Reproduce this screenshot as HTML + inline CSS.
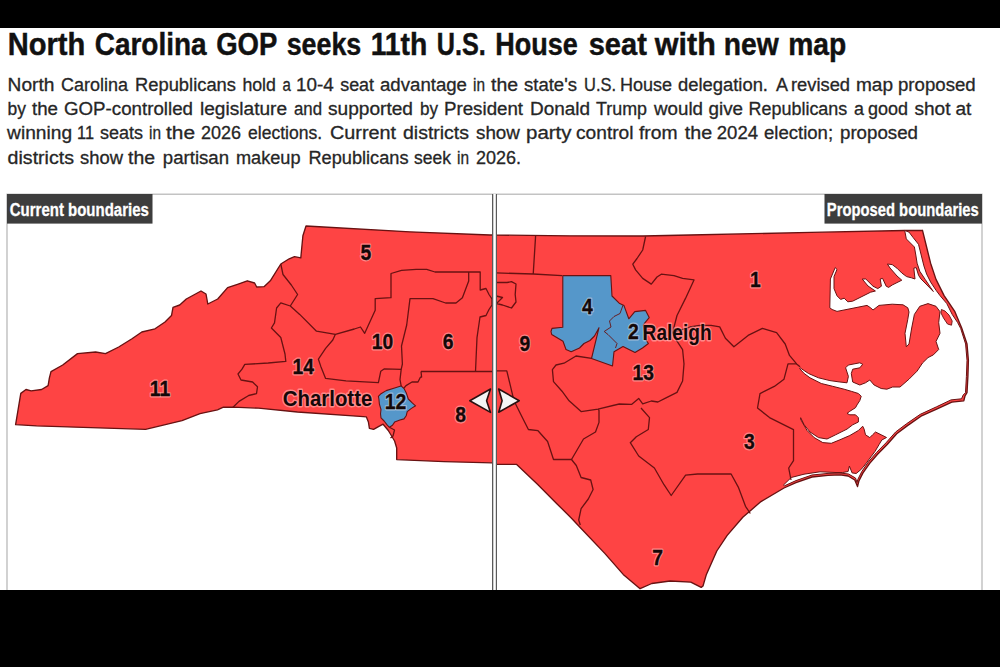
<!DOCTYPE html>
<html><head><meta charset="utf-8"><title>North Carolina GOP seeks 11th U.S. House seat with new map</title>
<style>html,body{margin:0;padding:0;background:#fff;width:1000px;height:667px;overflow:hidden}svg{display:block}</style>
</head><body>
<svg width="1000" height="667" viewBox="0 0 1000 667">
<defs><clipPath id="cl"><rect x="7" y="194" width="486.5" height="400"/></clipPath><clipPath id="cr"><rect x="496" y="194" width="486" height="400"/></clipPath></defs>
<rect width="1000" height="667" fill="#fff"/>
<text x="7.70" y="54.6" font-family="Liberation Sans, Arial, sans-serif" font-weight="bold" font-size="31.5" fill="#111" stroke="#111" stroke-width="0.45" textLength="77.58" lengthAdjust="spacingAndGlyphs">North</text>
<text x="94.70" y="54.6" font-family="Liberation Sans, Arial, sans-serif" font-weight="bold" font-size="31.5" fill="#111" stroke="#111" stroke-width="0.45" textLength="111.86" lengthAdjust="spacingAndGlyphs">Carolina</text>
<text x="216.20" y="54.6" font-family="Liberation Sans, Arial, sans-serif" font-weight="bold" font-size="31.5" fill="#111" stroke="#111" stroke-width="0.45" textLength="61.11" lengthAdjust="spacingAndGlyphs">GOP</text>
<text x="286.70" y="54.6" font-family="Liberation Sans, Arial, sans-serif" font-weight="bold" font-size="31.5" fill="#111" stroke="#111" stroke-width="0.45" textLength="74.59" lengthAdjust="spacingAndGlyphs">seeks</text>
<text x="370.70" y="54.6" font-family="Liberation Sans, Arial, sans-serif" font-weight="bold" font-size="31.5" fill="#111" stroke="#111" stroke-width="0.45" textLength="56.63" lengthAdjust="spacingAndGlyphs">11th</text>
<text x="436.70" y="54.6" font-family="Liberation Sans, Arial, sans-serif" font-weight="bold" font-size="31.5" fill="#111" stroke="#111" stroke-width="0.45" textLength="49.07" lengthAdjust="spacingAndGlyphs">U.S.</text>
<text x="495.20" y="54.6" font-family="Liberation Sans, Arial, sans-serif" font-weight="bold" font-size="31.5" fill="#111" stroke="#111" stroke-width="0.45" textLength="82.57" lengthAdjust="spacingAndGlyphs">House</text>
<text x="588.70" y="54.6" font-family="Liberation Sans, Arial, sans-serif" font-weight="bold" font-size="31.5" fill="#111" stroke="#111" stroke-width="0.45" textLength="58.14" lengthAdjust="spacingAndGlyphs">seat</text>
<text x="654.80" y="54.6" font-family="Liberation Sans, Arial, sans-serif" font-weight="bold" font-size="31.5" fill="#111" stroke="#111" stroke-width="0.45" textLength="60.99" lengthAdjust="spacingAndGlyphs">with</text>
<text x="723.70" y="54.6" font-family="Liberation Sans, Arial, sans-serif" font-weight="bold" font-size="31.5" fill="#111" stroke="#111" stroke-width="0.45" textLength="54.98" lengthAdjust="spacingAndGlyphs">new</text>
<text x="788.20" y="54.6" font-family="Liberation Sans, Arial, sans-serif" font-weight="bold" font-size="31.5" fill="#111" stroke="#111" stroke-width="0.45" textLength="58.07" lengthAdjust="spacingAndGlyphs">map</text>
<text x="7.60" y="91" font-family="Liberation Sans, Arial, sans-serif" font-size="18" fill="#262626" stroke="#262626" stroke-width="0.3" textLength="46.82" lengthAdjust="spacingAndGlyphs">North</text>
<text x="61.00" y="91" font-family="Liberation Sans, Arial, sans-serif" font-size="18" fill="#262626" stroke="#262626" stroke-width="0.3" textLength="66.93" lengthAdjust="spacingAndGlyphs">Carolina</text>
<text x="135.00" y="91" font-family="Liberation Sans, Arial, sans-serif" font-size="18" fill="#262626" stroke="#262626" stroke-width="0.3" textLength="100.96" lengthAdjust="spacingAndGlyphs">Republicans</text>
<text x="242.40" y="91" font-family="Liberation Sans, Arial, sans-serif" font-size="18" fill="#262626" stroke="#262626" stroke-width="0.3" textLength="33.53" lengthAdjust="spacingAndGlyphs">hold</text>
<text x="282.40" y="91" font-family="Liberation Sans, Arial, sans-serif" font-size="18" fill="#262626" stroke="#262626" stroke-width="0.3" textLength="8.33" lengthAdjust="spacingAndGlyphs">a</text>
<text x="296.00" y="91" font-family="Liberation Sans, Arial, sans-serif" font-size="18" fill="#262626" stroke="#262626" stroke-width="0.3" textLength="37.73" lengthAdjust="spacingAndGlyphs">10-4</text>
<text x="340.20" y="91" font-family="Liberation Sans, Arial, sans-serif" font-size="18" fill="#262626" stroke="#262626" stroke-width="0.3" textLength="33.82" lengthAdjust="spacingAndGlyphs">seat</text>
<text x="380.00" y="91" font-family="Liberation Sans, Arial, sans-serif" font-size="18" fill="#262626" stroke="#262626" stroke-width="0.3" textLength="86.98" lengthAdjust="spacingAndGlyphs">advantage</text>
<text x="473.00" y="91" font-family="Liberation Sans, Arial, sans-serif" font-size="18" fill="#262626" stroke="#262626" stroke-width="0.3" textLength="12.01" lengthAdjust="spacingAndGlyphs">in</text>
<text x="491.00" y="91" font-family="Liberation Sans, Arial, sans-serif" font-size="18" fill="#262626" stroke="#262626" stroke-width="0.3" textLength="27.03" lengthAdjust="spacingAndGlyphs">the</text>
<text x="524.00" y="91" font-family="Liberation Sans, Arial, sans-serif" font-size="18" fill="#262626" stroke="#262626" stroke-width="0.3" textLength="52.96" lengthAdjust="spacingAndGlyphs">state's</text>
<text x="584.00" y="91" font-family="Liberation Sans, Arial, sans-serif" font-size="18" fill="#262626" stroke="#262626" stroke-width="0.3" textLength="32.01" lengthAdjust="spacingAndGlyphs">U.S.</text>
<text x="620.00" y="91" font-family="Liberation Sans, Arial, sans-serif" font-size="18" fill="#262626" stroke="#262626" stroke-width="0.3" textLength="52.03" lengthAdjust="spacingAndGlyphs">House</text>
<text x="678.00" y="91" font-family="Liberation Sans, Arial, sans-serif" font-size="18" fill="#262626" stroke="#262626" stroke-width="0.3" textLength="89.98" lengthAdjust="spacingAndGlyphs">delegation.</text>
<text x="776.00" y="91" font-family="Liberation Sans, Arial, sans-serif" font-size="18" fill="#262626" stroke="#262626" stroke-width="0.3" textLength="12.01" lengthAdjust="spacingAndGlyphs">A</text>
<text x="791.00" y="91" font-family="Liberation Sans, Arial, sans-serif" font-size="18" fill="#262626" stroke="#262626" stroke-width="0.3" textLength="59.03" lengthAdjust="spacingAndGlyphs">revised</text>
<text x="856.00" y="91" font-family="Liberation Sans, Arial, sans-serif" font-size="18" fill="#262626" stroke="#262626" stroke-width="0.3" textLength="37.02" lengthAdjust="spacingAndGlyphs">map</text>
<text x="898.00" y="91" font-family="Liberation Sans, Arial, sans-serif" font-size="18" fill="#262626" stroke="#262626" stroke-width="0.3" textLength="77.66" lengthAdjust="spacingAndGlyphs">proposed</text>
<text x="7.60" y="114.5" font-family="Liberation Sans, Arial, sans-serif" font-size="18" fill="#262626" stroke="#262626" stroke-width="0.3" textLength="18.41" lengthAdjust="spacingAndGlyphs">by</text>
<text x="32.00" y="114.5" font-family="Liberation Sans, Arial, sans-serif" font-size="18" fill="#262626" stroke="#262626" stroke-width="0.3" textLength="26.02" lengthAdjust="spacingAndGlyphs">the</text>
<text x="64.00" y="114.5" font-family="Liberation Sans, Arial, sans-serif" font-size="18" fill="#262626" stroke="#262626" stroke-width="0.3" textLength="128.95" lengthAdjust="spacingAndGlyphs">GOP-controlled</text>
<text x="200.00" y="114.5" font-family="Liberation Sans, Arial, sans-serif" font-size="18" fill="#262626" stroke="#262626" stroke-width="0.3" textLength="87.05" lengthAdjust="spacingAndGlyphs">legislature</text>
<text x="294.00" y="114.5" font-family="Liberation Sans, Arial, sans-serif" font-size="18" fill="#262626" stroke="#262626" stroke-width="0.3" textLength="28.03" lengthAdjust="spacingAndGlyphs">and</text>
<text x="328.00" y="114.5" font-family="Liberation Sans, Arial, sans-serif" font-size="18" fill="#262626" stroke="#262626" stroke-width="0.3" textLength="84.96" lengthAdjust="spacingAndGlyphs">supported</text>
<text x="420.00" y="114.5" font-family="Liberation Sans, Arial, sans-serif" font-size="18" fill="#262626" stroke="#262626" stroke-width="0.3" textLength="18.01" lengthAdjust="spacingAndGlyphs">by</text>
<text x="444.00" y="114.5" font-family="Liberation Sans, Arial, sans-serif" font-size="18" fill="#262626" stroke="#262626" stroke-width="0.3" textLength="79.05" lengthAdjust="spacingAndGlyphs">President</text>
<text x="530.00" y="114.5" font-family="Liberation Sans, Arial, sans-serif" font-size="18" fill="#262626" stroke="#262626" stroke-width="0.3" textLength="60.04" lengthAdjust="spacingAndGlyphs">Donald</text>
<text x="596.00" y="114.5" font-family="Liberation Sans, Arial, sans-serif" font-size="18" fill="#262626" stroke="#262626" stroke-width="0.3" textLength="51.04" lengthAdjust="spacingAndGlyphs">Trump</text>
<text x="654.10" y="114.5" font-family="Liberation Sans, Arial, sans-serif" font-size="18" fill="#262626" stroke="#262626" stroke-width="0.3" textLength="48.93" lengthAdjust="spacingAndGlyphs">would</text>
<text x="708.50" y="114.5" font-family="Liberation Sans, Arial, sans-serif" font-size="18" fill="#262626" stroke="#262626" stroke-width="0.3" textLength="34.52" lengthAdjust="spacingAndGlyphs">give</text>
<text x="748.60" y="114.5" font-family="Liberation Sans, Arial, sans-serif" font-size="18" fill="#262626" stroke="#262626" stroke-width="0.3" textLength="98.66" lengthAdjust="spacingAndGlyphs">Republicans</text>
<text x="854.00" y="114.5" font-family="Liberation Sans, Arial, sans-serif" font-size="18" fill="#262626" stroke="#262626" stroke-width="0.3" textLength="9.91" lengthAdjust="spacingAndGlyphs">a</text>
<text x="868.00" y="114.5" font-family="Liberation Sans, Arial, sans-serif" font-size="18" fill="#262626" stroke="#262626" stroke-width="0.3" textLength="40.04" lengthAdjust="spacingAndGlyphs">good</text>
<text x="914.50" y="114.5" font-family="Liberation Sans, Arial, sans-serif" font-size="18" fill="#262626" stroke="#262626" stroke-width="0.3" textLength="36.02" lengthAdjust="spacingAndGlyphs">shot</text>
<text x="955.50" y="114.5" font-family="Liberation Sans, Arial, sans-serif" font-size="18" fill="#262626" stroke="#262626" stroke-width="0.3" textLength="15.91" lengthAdjust="spacingAndGlyphs">at</text>
<text x="7.11" y="138.6" font-family="Liberation Sans, Arial, sans-serif" font-size="18" fill="#262626" stroke="#262626" stroke-width="0.3" textLength="64.94" lengthAdjust="spacingAndGlyphs">winning</text>
<text x="77.00" y="138.6" font-family="Liberation Sans, Arial, sans-serif" font-size="18" fill="#262626" stroke="#262626" stroke-width="0.3" textLength="16.99" lengthAdjust="spacingAndGlyphs">11</text>
<text x="100.00" y="138.6" font-family="Liberation Sans, Arial, sans-serif" font-size="18" fill="#262626" stroke="#262626" stroke-width="0.3" textLength="43.02" lengthAdjust="spacingAndGlyphs">seats</text>
<text x="149.00" y="138.6" font-family="Liberation Sans, Arial, sans-serif" font-size="18" fill="#262626" stroke="#262626" stroke-width="0.3" textLength="12.01" lengthAdjust="spacingAndGlyphs">in</text>
<text x="166.00" y="138.6" font-family="Liberation Sans, Arial, sans-serif" font-size="18" fill="#262626" stroke="#262626" stroke-width="0.3" textLength="29.03" lengthAdjust="spacingAndGlyphs">the</text>
<text x="201.00" y="138.6" font-family="Liberation Sans, Arial, sans-serif" font-size="18" fill="#262626" stroke="#262626" stroke-width="0.3" textLength="40.04" lengthAdjust="spacingAndGlyphs">2026</text>
<text x="248.00" y="138.6" font-family="Liberation Sans, Arial, sans-serif" font-size="18" fill="#262626" stroke="#262626" stroke-width="0.3" textLength="74.04" lengthAdjust="spacingAndGlyphs">elections.</text>
<text x="330.00" y="138.6" font-family="Liberation Sans, Arial, sans-serif" font-size="18" fill="#262626" stroke="#262626" stroke-width="0.3" textLength="66.02" lengthAdjust="spacingAndGlyphs">Current</text>
<text x="403.00" y="138.6" font-family="Liberation Sans, Arial, sans-serif" font-size="18" fill="#262626" stroke="#262626" stroke-width="0.3" textLength="66.01" lengthAdjust="spacingAndGlyphs">districts</text>
<text x="476.00" y="138.6" font-family="Liberation Sans, Arial, sans-serif" font-size="18" fill="#262626" stroke="#262626" stroke-width="0.3" textLength="43.92" lengthAdjust="spacingAndGlyphs">show</text>
<text x="526.00" y="138.6" font-family="Liberation Sans, Arial, sans-serif" font-size="18" fill="#262626" stroke="#262626" stroke-width="0.3" textLength="45.52" lengthAdjust="spacingAndGlyphs">party</text>
<text x="576.00" y="138.6" font-family="Liberation Sans, Arial, sans-serif" font-size="18" fill="#262626" stroke="#262626" stroke-width="0.3" textLength="57.53" lengthAdjust="spacingAndGlyphs">control</text>
<text x="639.00" y="138.6" font-family="Liberation Sans, Arial, sans-serif" font-size="18" fill="#262626" stroke="#262626" stroke-width="0.3" textLength="38.60" lengthAdjust="spacingAndGlyphs">from</text>
<text x="684.80" y="138.6" font-family="Liberation Sans, Arial, sans-serif" font-size="18" fill="#262626" stroke="#262626" stroke-width="0.3" textLength="27.33" lengthAdjust="spacingAndGlyphs">the</text>
<text x="716.80" y="138.6" font-family="Liberation Sans, Arial, sans-serif" font-size="18" fill="#262626" stroke="#262626" stroke-width="0.3" textLength="41.25" lengthAdjust="spacingAndGlyphs">2024</text>
<text x="764.00" y="138.6" font-family="Liberation Sans, Arial, sans-serif" font-size="18" fill="#262626" stroke="#262626" stroke-width="0.3" textLength="69.05" lengthAdjust="spacingAndGlyphs">election;</text>
<text x="840.00" y="138.6" font-family="Liberation Sans, Arial, sans-serif" font-size="18" fill="#262626" stroke="#262626" stroke-width="0.3" textLength="77.96" lengthAdjust="spacingAndGlyphs">proposed</text>
<text x="7.60" y="163.5" font-family="Liberation Sans, Arial, sans-serif" font-size="18" fill="#262626" stroke="#262626" stroke-width="0.3" textLength="66.41" lengthAdjust="spacingAndGlyphs">districts</text>
<text x="80.00" y="163.5" font-family="Liberation Sans, Arial, sans-serif" font-size="18" fill="#262626" stroke="#262626" stroke-width="0.3" textLength="42.92" lengthAdjust="spacingAndGlyphs">show</text>
<text x="128.00" y="163.5" font-family="Liberation Sans, Arial, sans-serif" font-size="18" fill="#262626" stroke="#262626" stroke-width="0.3" textLength="27.03" lengthAdjust="spacingAndGlyphs">the</text>
<text x="162.80" y="163.5" font-family="Liberation Sans, Arial, sans-serif" font-size="18" fill="#262626" stroke="#262626" stroke-width="0.3" textLength="66.24" lengthAdjust="spacingAndGlyphs">partisan</text>
<text x="236.00" y="163.5" font-family="Liberation Sans, Arial, sans-serif" font-size="18" fill="#262626" stroke="#262626" stroke-width="0.3" textLength="64.54" lengthAdjust="spacingAndGlyphs">makeup</text>
<text x="308.40" y="163.5" font-family="Liberation Sans, Arial, sans-serif" font-size="18" fill="#262626" stroke="#262626" stroke-width="0.3" textLength="100.16" lengthAdjust="spacingAndGlyphs">Republicans</text>
<text x="414.00" y="163.5" font-family="Liberation Sans, Arial, sans-serif" font-size="18" fill="#262626" stroke="#262626" stroke-width="0.3" textLength="36.92" lengthAdjust="spacingAndGlyphs">seek</text>
<text x="457.00" y="163.5" font-family="Liberation Sans, Arial, sans-serif" font-size="18" fill="#262626" stroke="#262626" stroke-width="0.3" textLength="12.01" lengthAdjust="spacingAndGlyphs">in</text>
<text x="476.00" y="163.5" font-family="Liberation Sans, Arial, sans-serif" font-size="18" fill="#262626" stroke="#262626" stroke-width="0.3" textLength="45.05" lengthAdjust="spacingAndGlyphs">2026.</text>
<rect x="7" y="194.2" width="975" height="420" fill="none" stroke="#b4b4b4" stroke-width="1.2"/>
<g clip-path="url(#cl)"><polygon points="15.6,424.6 20.8,393.4 26.0,389.5 31.2,390.8 41.6,389.5 48.1,385.6 49.4,377.8 51.0,371.7 62.7,365.0 77.5,353.6 95.6,352.0 105.5,353.6 118.7,347.0 132.0,338.7 141.8,332.0 155.0,328.8 165.0,322.0 171.5,315.6 173.0,307.4 179.7,305.0 186.3,299.0 201.0,291.0 206.0,294.0 207.8,304.0 217.7,299.0 227.6,287.6 237.5,284.3 247.3,280.8 254.6,283.0 256.7,287.0 264.0,286.7 270.3,280.8 280.8,264.0 289.2,258.8 294.5,256.7 300.8,257.8 301.8,247.3 302.9,235.7 306.0,226.0 410.0,231.8 490.0,235.0 570.0,235.8 643.0,236.0 690.0,235.0 811.0,232.4 904.7,230.5 922.5,230.3 926.6,247.0 930.6,263.2 936.0,279.4 944.1,295.6 954.9,311.7 961.7,328.0 967.0,344.0 968.4,360.3 967.9,376.5 967.0,392.7 965.0,396.0 963.8,400.8 951.8,402.2 937.2,408.8 921.0,416.2 907.5,425.6 896.7,433.7 887.2,444.5 877.8,454.0 869.7,463.4 863.0,472.9 858.9,481.0 857.5,486.6 854.8,480.0 848.1,476.0 840.0,474.8 828.0,475.4 812.0,477.0 796.0,482.6 784.0,488.0 761.0,501.6 742.8,517.2 727.2,535.4 716.8,551.0 706.4,574.4 703.0,586.0 701.2,587.4 690.8,582.2 670.0,581.0 651.8,583.5 640.1,588.7 623.2,574.4 605.0,553.6 579.0,526.3 571.5,518.3 557.1,503.9 538.0,484.7 516.4,464.3 496.0,464.3 492.2,462.8 444.0,461.7 396.7,459.6 396.7,448.0 394.6,441.0 388.3,430.5 383.1,424.2 378.9,426.3 373.6,429.4 369.4,428.4 368.4,422.0 366.3,416.8 360.0,416.4 297.4,412.0 258.5,408.2 233.0,407.2 223.4,407.2 217.5,409.8 200.0,413.7 182.0,420.7 145.6,429.3 91.0,427.7 36.4,425.9" fill="#fe4444" stroke="#681212" stroke-width="1.35" stroke-linejoin="round" />
<polygon points="904.7,230.5 905.0,232.1 906.3,238.9 910.4,243.0 914.4,247.0 915.8,255.0 917.1,263.2 919.8,271.3 925.2,279.4 930.6,287.5 933.3,291.5 926.0,284.0 921.0,279.0 918.6,275.4 916.2,267.6 913.8,268.2 915.0,279.0 911.4,277.8 906.6,276.6 901.8,273.0 897.0,268.2 892.2,264.6 887.4,264.0 890.0,268.0 897.0,276.0 901.8,280.2 897.0,282.6 892.2,285.0 888.6,287.4 886.2,286.2 882.6,278.4 880.2,279.0 881.4,286.2 877.8,288.6 873.0,286.2 865.8,279.0 862.2,279.0 868.0,286.0 875.4,291.0 870.6,292.2 861.0,297.0 852.6,301.2 847.8,301.8 844.2,298.2 840.6,299.4 837.0,295.8 834.0,288.6 834.0,276.6 837.0,269.4 835.2,267.6 830.4,279.0 829.8,307.8 832.1,309.5 837.0,311.4 849.0,309.0 861.0,306.6 867.0,305.4 870.6,307.8 873.0,310.0 879.0,305.4 892.2,304.2 903.0,304.8 907.8,307.8 909.0,312.0 907.7,319.8 905.0,333.3 906.3,346.8 909.0,344.0 911.7,328.0 914.4,314.4 919.8,306.3 928.0,303.6 936.0,306.3 940.0,311.7 938.7,322.5 940.0,333.3 936.0,341.4 938.7,349.5 933.3,354.9 928.0,357.6 922.5,363.0 917.1,371.1 909.0,379.2 900.0,387.0 892.6,387.0 886.9,389.2 881.2,388.5 874.1,385.0 869.8,380.0 865.5,382.8 859.8,385.0 852.7,382.0 851.3,373.5 852.7,369.2 859.8,367.8 862.7,364.3 859.8,362.8 848.4,365.0 845.6,367.8 848.4,376.4 847.0,382.8 839.9,382.0 829.9,380.6 818.5,377.8 808.5,373.5 800.0,367.8 799.5,368.5 804.2,373.5 810.0,377.8 821.3,383.5 832.7,386.3 844.1,389.2 851.3,391.3 858.4,393.5 861.2,396.3 859.8,400.6 857.0,404.9 855.5,407.7 849.8,411.3 847.0,413.4 849.8,414.8 855.5,414.8 858.4,417.7 858.4,422.0 852.7,424.8 847.0,429.1 835.6,434.8 827.0,439.0 818.5,437.6 810.0,432.0 804.2,424.8 800.7,417.7 800.5,419.0 802.1,422.0 807.1,430.5 814.2,437.6 822.8,442.6 831.3,443.3 839.9,439.8 849.8,435.5 858.4,430.5 862.7,426.2 864.1,429.1 865.5,434.8 869.8,437.6 872.6,434.8 875.5,432.0 881.2,434.8 884.0,436.2 886.5,437.5 881.8,440.0 879.1,444.5 875.1,451.3 871.0,456.7 867.0,462.1 862.9,467.5 860.2,470.2 856.2,473.5 852.1,472.9 849.4,466.1 848.1,471.5 842.7,472.5 836.0,472.5 820.0,471.8 804.0,474.2 791.2,477.5 783.5,485.0 784.5,485.8 796.0,480.6 812.0,475.0 828.0,473.4 840.0,473.0 848.5,474.0 855.5,478.0 857.0,482.5 857.8,479.5 861.8,471.5 868.5,461.8 876.6,452.4 886.0,442.8 895.6,432.0 906.5,423.8 920.3,414.3 936.5,406.8 951.0,399.9 961.5,398.8 963.2,395.0 965.5,392.7 966.4,376.5 967.0,360.3 965.6,344.0 960.7,328.5 957.6,322.5 952.2,314.4 946.8,303.6 940.0,295.6 936.0,290.2 930.6,282.0 926.6,274.0 923.9,265.9 921.2,255.0 918.5,244.3 913.1,237.5 909.0,232.1" fill="#fff" stroke="#681212" stroke-width="1.0" stroke-linejoin="round" />
<polygon points="941.4,309.5 945.0,311.0 949.0,315.0 952.2,321.0 951.5,325.2 947.5,324.0 943.5,318.0 941.0,313.0" fill="#fe4444" stroke="#681212" stroke-width="0.9" stroke-linejoin="round" />
<polyline points="280.8,264.0 283.0,274.5 291.3,285.0 297.6,294.5 290.3,306.0 280.8,302.9 276.6,308.0 274.5,322.8 271.4,328.0 280.8,337.5 285.0,354.0 285.8,361.4 268.2,363.0 244.8,364.4 242.0,369.2 238.0,374.0 241.0,380.0 252.6,382.0 257.5,386.8 256.5,393.6 248.7,395.5 239.0,401.4 233.0,407.2" fill="none" stroke="#681212" stroke-width="1.3" stroke-linejoin="round"/>
<polyline points="290.3,306.0 299.7,314.4 316.5,331.2 335.4,334.3 354.3,329.0 360.5,327.0 364.7,333.3 375.2,310.2 375.2,298.7 391.0,297.7 391.0,273.5 401.5,270.4 416.2,269.4 426.7,269.4 435.0,272.0 468.7,272.0 480.2,272.0 480.2,290.0 486.0,288.5 489.0,294.5 492.0,299.0 492.0,305.0 489.0,309.5 486.0,315.5 480.0,317.0 477.0,337.6 476.0,360.0 475.5,371.5" fill="none" stroke="#681212" stroke-width="1.3" stroke-linejoin="round"/>
<polyline points="335.4,334.3 332.8,340.0 325.6,348.4 318.4,359.2 320.8,366.4 325.6,378.4 346.0,380.8 378.4,382.6 380.8,371.2 384.4,368.8 401.2,369.4" fill="none" stroke="#681212" stroke-width="1.3" stroke-linejoin="round"/>
<polyline points="468.7,272.0 468.7,281.0 462.4,297.7 456.0,303.0 445.6,303.0 433.0,298.7 410.0,298.7 406.7,325.0 401.5,346.0 402.4,364.0 401.2,369.4 400.0,379.6 401.2,386.0" fill="none" stroke="#681212" stroke-width="1.3" stroke-linejoin="round"/>
<polyline points="421.0,371.5 475.5,371.5 493.0,371.5" fill="none" stroke="#681212" stroke-width="1.3" stroke-linejoin="round"/>
<polyline points="421.0,371.5 421.6,377.0 420.4,377.2 418.0,382.0 412.0,382.0 406.0,385.6 404.0,388.0" fill="none" stroke="#681212" stroke-width="1.3" stroke-linejoin="round"/>
<polyline points="389.4,427.3 394.5,430.0 393.0,436.0 390.5,438.0" fill="none" stroke="#681212" stroke-width="1.3" stroke-linejoin="round"/>
<polygon points="378.4,396.4 381.0,393.7 386.2,390.6 394.6,388.0 401.0,385.9 404.0,388.5 406.2,392.7 408.3,399.0 412.5,403.2 415.6,405.8 411.4,408.4 407.2,411.6 406.2,415.8 404.0,418.9 399.9,420.0 394.6,422.1 392.5,425.2 389.4,427.3 387.3,425.2 384.1,421.0 381.0,417.9 380.5,413.7 381.0,409.5 379.4,404.2 378.9,399.0" fill="#5597ca" stroke="#681212" stroke-width="1.1" stroke-linejoin="round" /></g>
<g clip-path="url(#cr)"><polygon points="15.6,424.6 20.8,393.4 26.0,389.5 31.2,390.8 41.6,389.5 48.1,385.6 49.4,377.8 51.0,371.7 62.7,365.0 77.5,353.6 95.6,352.0 105.5,353.6 118.7,347.0 132.0,338.7 141.8,332.0 155.0,328.8 165.0,322.0 171.5,315.6 173.0,307.4 179.7,305.0 186.3,299.0 201.0,291.0 206.0,294.0 207.8,304.0 217.7,299.0 227.6,287.6 237.5,284.3 247.3,280.8 254.6,283.0 256.7,287.0 264.0,286.7 270.3,280.8 280.8,264.0 289.2,258.8 294.5,256.7 300.8,257.8 301.8,247.3 302.9,235.7 306.0,226.0 410.0,231.8 490.0,235.0 570.0,235.8 643.0,236.0 690.0,235.0 811.0,232.4 904.7,230.5 922.5,230.3 926.6,247.0 930.6,263.2 936.0,279.4 944.1,295.6 954.9,311.7 961.7,328.0 967.0,344.0 968.4,360.3 967.9,376.5 967.0,392.7 965.0,396.0 963.8,400.8 951.8,402.2 937.2,408.8 921.0,416.2 907.5,425.6 896.7,433.7 887.2,444.5 877.8,454.0 869.7,463.4 863.0,472.9 858.9,481.0 857.5,486.6 854.8,480.0 848.1,476.0 840.0,474.8 828.0,475.4 812.0,477.0 796.0,482.6 784.0,488.0 761.0,501.6 742.8,517.2 727.2,535.4 716.8,551.0 706.4,574.4 703.0,586.0 701.2,587.4 690.8,582.2 670.0,581.0 651.8,583.5 640.1,588.7 623.2,574.4 605.0,553.6 579.0,526.3 571.5,518.3 557.1,503.9 538.0,484.7 516.4,464.3 496.0,464.3 492.2,462.8 444.0,461.7 396.7,459.6 396.7,448.0 394.6,441.0 388.3,430.5 383.1,424.2 378.9,426.3 373.6,429.4 369.4,428.4 368.4,422.0 366.3,416.8 360.0,416.4 297.4,412.0 258.5,408.2 233.0,407.2 223.4,407.2 217.5,409.8 200.0,413.7 182.0,420.7 145.6,429.3 91.0,427.7 36.4,425.9" fill="#fe4444" stroke="#681212" stroke-width="1.35" stroke-linejoin="round" />
<polygon points="904.7,230.5 905.0,232.1 906.3,238.9 910.4,243.0 914.4,247.0 915.8,255.0 917.1,263.2 919.8,271.3 925.2,279.4 930.6,287.5 933.3,291.5 926.0,284.0 921.0,279.0 918.6,275.4 916.2,267.6 913.8,268.2 915.0,279.0 911.4,277.8 906.6,276.6 901.8,273.0 897.0,268.2 892.2,264.6 887.4,264.0 890.0,268.0 897.0,276.0 901.8,280.2 897.0,282.6 892.2,285.0 888.6,287.4 886.2,286.2 882.6,278.4 880.2,279.0 881.4,286.2 877.8,288.6 873.0,286.2 865.8,279.0 862.2,279.0 868.0,286.0 875.4,291.0 870.6,292.2 861.0,297.0 852.6,301.2 847.8,301.8 844.2,298.2 840.6,299.4 837.0,295.8 834.0,288.6 834.0,276.6 837.0,269.4 835.2,267.6 830.4,279.0 829.8,307.8 832.1,309.5 837.0,311.4 849.0,309.0 861.0,306.6 867.0,305.4 870.6,307.8 873.0,310.0 879.0,305.4 892.2,304.2 903.0,304.8 907.8,307.8 909.0,312.0 907.7,319.8 905.0,333.3 906.3,346.8 909.0,344.0 911.7,328.0 914.4,314.4 919.8,306.3 928.0,303.6 936.0,306.3 940.0,311.7 938.7,322.5 940.0,333.3 936.0,341.4 938.7,349.5 933.3,354.9 928.0,357.6 922.5,363.0 917.1,371.1 909.0,379.2 900.0,387.0 892.6,387.0 886.9,389.2 881.2,388.5 874.1,385.0 869.8,380.0 865.5,382.8 859.8,385.0 852.7,382.0 851.3,373.5 852.7,369.2 859.8,367.8 862.7,364.3 859.8,362.8 848.4,365.0 845.6,367.8 848.4,376.4 847.0,382.8 839.9,382.0 829.9,380.6 818.5,377.8 808.5,373.5 800.0,367.8 799.5,368.5 804.2,373.5 810.0,377.8 821.3,383.5 832.7,386.3 844.1,389.2 851.3,391.3 858.4,393.5 861.2,396.3 859.8,400.6 857.0,404.9 855.5,407.7 849.8,411.3 847.0,413.4 849.8,414.8 855.5,414.8 858.4,417.7 858.4,422.0 852.7,424.8 847.0,429.1 835.6,434.8 827.0,439.0 818.5,437.6 810.0,432.0 804.2,424.8 800.7,417.7 800.5,419.0 802.1,422.0 807.1,430.5 814.2,437.6 822.8,442.6 831.3,443.3 839.9,439.8 849.8,435.5 858.4,430.5 862.7,426.2 864.1,429.1 865.5,434.8 869.8,437.6 872.6,434.8 875.5,432.0 881.2,434.8 884.0,436.2 886.5,437.5 881.8,440.0 879.1,444.5 875.1,451.3 871.0,456.7 867.0,462.1 862.9,467.5 860.2,470.2 856.2,473.5 852.1,472.9 849.4,466.1 848.1,471.5 842.7,472.5 836.0,472.5 820.0,471.8 804.0,474.2 791.2,477.5 783.5,485.0 784.5,485.8 796.0,480.6 812.0,475.0 828.0,473.4 840.0,473.0 848.5,474.0 855.5,478.0 857.0,482.5 857.8,479.5 861.8,471.5 868.5,461.8 876.6,452.4 886.0,442.8 895.6,432.0 906.5,423.8 920.3,414.3 936.5,406.8 951.0,399.9 961.5,398.8 963.2,395.0 965.5,392.7 966.4,376.5 967.0,360.3 965.6,344.0 960.7,328.5 957.6,322.5 952.2,314.4 946.8,303.6 940.0,295.6 936.0,290.2 930.6,282.0 926.6,274.0 923.9,265.9 921.2,255.0 918.5,244.3 913.1,237.5 909.0,232.1" fill="#fff" stroke="#681212" stroke-width="1.0" stroke-linejoin="round" />
<polygon points="941.4,309.5 945.0,311.0 949.0,315.0 952.2,321.0 951.5,325.2 947.5,324.0 943.5,318.0 941.0,313.0" fill="#fe4444" stroke="#681212" stroke-width="0.9" stroke-linejoin="round" />
<polyline points="535.6,236.0 533.2,274.0" fill="none" stroke="#681212" stroke-width="1.3" stroke-linejoin="round"/>
<polyline points="493.0,272.8 533.2,274.0 562.0,275.6" fill="none" stroke="#681212" stroke-width="1.3" stroke-linejoin="round"/>
<polyline points="496.0,282.5 507.0,282.5 511.5,281.7 516.0,284.0 515.2,294.5 516.0,302.0 511.5,308.0 502.5,305.0 496.5,303.5 502.5,297.5 496.0,296.0" fill="none" stroke="#681212" stroke-width="1.3" stroke-linejoin="round"/>
<polyline points="645.6,236.5 642.7,250.0 637.0,258.5 632.8,264.2 635.6,269.9 642.7,278.4 651.3,284.1 657.0,277.0 661.3,274.2 674.0,275.6 682.6,278.4 694.0,279.9 685.5,298.4 677.0,315.5 672.6,332.6 677.0,341.1 682.6,349.7 684.0,363.9 682.6,381.0 677.0,392.4 665.5,398.1 657.9,402.0 651.3,401.0 642.7,403.8 638.7,398.4 631.5,404.4 619.2,404.0 598.0,409.2 581.1,411.6 569.1,400.8 562.0,391.2 553.5,381.6 552.4,369.6 556.0,365.0 564.0,363.2 576.0,356.0 591.6,358.4" fill="none" stroke="#681212" stroke-width="1.3" stroke-linejoin="round"/>
<polyline points="672.6,332.6 690.0,327.0 699.7,325.4 711.1,325.4 719.7,326.9 725.4,338.3 733.9,346.8 748.1,335.4 762.4,328.3 776.6,332.6 785.2,344.0 789.5,355.4 796.6,363.9 800.0,366.8" fill="none" stroke="#681212" stroke-width="1.3" stroke-linejoin="round"/>
<polyline points="796.6,363.9 788.0,363.9 784.0,379.2 774.3,386.4 760.0,393.6 757.5,408.0 769.5,417.6 793.5,429.6 793.5,460.7 788.7,468.0 791.0,480.0" fill="none" stroke="#681212" stroke-width="1.3" stroke-linejoin="round"/>
<polyline points="493.0,370.8 506.8,370.8 514.0,400.8 521.2,415.2 528.4,429.5 538.0,430.7 547.6,441.5 553.5,459.5 571.5,459.5 576.3,465.5 581.1,477.5 590.7,480.0 593.1,489.5 588.3,499.0 581.1,508.7 578.7,520.0 580.3,525.0" fill="none" stroke="#681212" stroke-width="1.3" stroke-linejoin="round"/>
<polyline points="571.5,459.5 583.5,439.0 595.5,432.0 599.0,422.4 599.0,410.4 598.0,409.2" fill="none" stroke="#681212" stroke-width="1.3" stroke-linejoin="round"/>
<polyline points="641.0,408.0 649.5,417.6 648.3,429.5 636.3,436.7 630.3,442.7 638.7,456.0 654.4,468.0 664.0,484.7 671.2,495.5 685.6,475.1 697.6,474.0 731.1,474.0 738.3,487.1 745.5,506.3 750.3,513.5" fill="none" stroke="#681212" stroke-width="1.3" stroke-linejoin="round"/>
<polygon points="562.8,275.6 610.8,275.6 612.0,296.0 619.2,303.2 624.0,305.6 628.8,318.8 634.8,311.6 645.6,310.4 649.2,317.6 643.2,324.8 645.6,339.2 648.4,343.5 642.5,348.0 635.0,352.5 629.0,349.5 623.0,346.5 614.0,351.7 612.5,366.0 591.5,358.5 599.0,327.7 594.5,336.0 590.0,340.5 584.0,343.5 579.5,348.0 571.2,351.7 566.0,349.5 563.0,341.2 551.7,334.5 551.0,331.5 552.0,328.4 562.8,327.2" fill="#5597ca" stroke="#681212" stroke-width="1.1" stroke-linejoin="round" />
<polyline points="623.0,305.2 620.0,313.5 614.0,316.5 609.5,321.0 611.0,327.0 604.2,331.5 608.0,334.5 612.5,339.0 617.0,343.5 615.5,348.0" fill="none" stroke="#681212" stroke-width="0.9" stroke-linejoin="round"/></g>
<text x="366" y="260" font-family="Liberation Sans, Arial, sans-serif" font-weight="bold" font-size="22.5" fill="none" stroke="rgba(255,235,235,0.42)" stroke-width="2.8" stroke-linejoin="round" text-anchor="middle" transform="translate(366 0) scale(0.86 1) translate(-366 0)">5</text><text x="366" y="260" font-family="Liberation Sans, Arial, sans-serif" font-weight="bold" font-size="22.5" fill="#140808" stroke="#140808" stroke-width="0.35" text-anchor="middle" transform="translate(366 0) scale(0.86 1) translate(-366 0)">5</text>
<text x="382.6" y="349.3" font-family="Liberation Sans, Arial, sans-serif" font-weight="bold" font-size="22.5" fill="none" stroke="rgba(255,235,235,0.42)" stroke-width="2.8" stroke-linejoin="round" text-anchor="middle" transform="translate(382.6 0) scale(0.86 1) translate(-382.6 0)">10</text><text x="382.6" y="349.3" font-family="Liberation Sans, Arial, sans-serif" font-weight="bold" font-size="22.5" fill="#140808" stroke="#140808" stroke-width="0.35" text-anchor="middle" transform="translate(382.6 0) scale(0.86 1) translate(-382.6 0)">10</text>
<text x="448.2" y="349.3" font-family="Liberation Sans, Arial, sans-serif" font-weight="bold" font-size="22.5" fill="none" stroke="rgba(255,235,235,0.42)" stroke-width="2.8" stroke-linejoin="round" text-anchor="middle" transform="translate(448.2 0) scale(0.86 1) translate(-448.2 0)">6</text><text x="448.2" y="349.3" font-family="Liberation Sans, Arial, sans-serif" font-weight="bold" font-size="22.5" fill="#140808" stroke="#140808" stroke-width="0.35" text-anchor="middle" transform="translate(448.2 0) scale(0.86 1) translate(-448.2 0)">6</text>
<text x="303.3" y="374" font-family="Liberation Sans, Arial, sans-serif" font-weight="bold" font-size="22.5" fill="none" stroke="rgba(255,235,235,0.42)" stroke-width="2.8" stroke-linejoin="round" text-anchor="middle" transform="translate(303.3 0) scale(0.86 1) translate(-303.3 0)">14</text><text x="303.3" y="374" font-family="Liberation Sans, Arial, sans-serif" font-weight="bold" font-size="22.5" fill="#140808" stroke="#140808" stroke-width="0.35" text-anchor="middle" transform="translate(303.3 0) scale(0.86 1) translate(-303.3 0)">14</text>
<text x="160" y="396" font-family="Liberation Sans, Arial, sans-serif" font-weight="bold" font-size="22.5" fill="none" stroke="rgba(255,235,235,0.42)" stroke-width="2.8" stroke-linejoin="round" text-anchor="middle" transform="translate(160 0) scale(0.86 1) translate(-160 0)">11</text><text x="160" y="396" font-family="Liberation Sans, Arial, sans-serif" font-weight="bold" font-size="22.5" fill="#140808" stroke="#140808" stroke-width="0.35" text-anchor="middle" transform="translate(160 0) scale(0.86 1) translate(-160 0)">11</text>
<text x="395.6" y="409.2" font-family="Liberation Sans, Arial, sans-serif" font-weight="bold" font-size="22.5" fill="none" stroke="rgba(255,235,235,0.42)" stroke-width="2.8" stroke-linejoin="round" text-anchor="middle" transform="translate(395.6 0) scale(0.86 1) translate(-395.6 0)">12</text><text x="395.6" y="409.2" font-family="Liberation Sans, Arial, sans-serif" font-weight="bold" font-size="22.5" fill="#140808" stroke="#140808" stroke-width="0.35" text-anchor="middle" transform="translate(395.6 0) scale(0.86 1) translate(-395.6 0)">12</text>
<text x="460.7" y="422.2" font-family="Liberation Sans, Arial, sans-serif" font-weight="bold" font-size="22.5" fill="none" stroke="rgba(255,235,235,0.42)" stroke-width="2.8" stroke-linejoin="round" text-anchor="middle" transform="translate(460.7 0) scale(0.86 1) translate(-460.7 0)">8</text><text x="460.7" y="422.2" font-family="Liberation Sans, Arial, sans-serif" font-weight="bold" font-size="22.5" fill="#140808" stroke="#140808" stroke-width="0.35" text-anchor="middle" transform="translate(460.7 0) scale(0.86 1) translate(-460.7 0)">8</text>
<text x="524.8" y="351.5" font-family="Liberation Sans, Arial, sans-serif" font-weight="bold" font-size="22.5" fill="none" stroke="rgba(255,235,235,0.42)" stroke-width="2.8" stroke-linejoin="round" text-anchor="middle" transform="translate(524.8 0) scale(0.86 1) translate(-524.8 0)">9</text><text x="524.8" y="351.5" font-family="Liberation Sans, Arial, sans-serif" font-weight="bold" font-size="22.5" fill="#140808" stroke="#140808" stroke-width="0.35" text-anchor="middle" transform="translate(524.8 0) scale(0.86 1) translate(-524.8 0)">9</text>
<text x="587.4" y="314" font-family="Liberation Sans, Arial, sans-serif" font-weight="bold" font-size="22.5" fill="none" stroke="rgba(255,235,235,0.42)" stroke-width="2.8" stroke-linejoin="round" text-anchor="middle" transform="translate(587.4 0) scale(0.86 1) translate(-587.4 0)">4</text><text x="587.4" y="314" font-family="Liberation Sans, Arial, sans-serif" font-weight="bold" font-size="22.5" fill="#140808" stroke="#140808" stroke-width="0.35" text-anchor="middle" transform="translate(587.4 0) scale(0.86 1) translate(-587.4 0)">4</text>
<text x="633.5" y="339.5" font-family="Liberation Sans, Arial, sans-serif" font-weight="bold" font-size="22.5" fill="none" stroke="rgba(255,235,235,0.42)" stroke-width="2.8" stroke-linejoin="round" text-anchor="middle" transform="translate(633.5 0) scale(0.86 1) translate(-633.5 0)">2</text><text x="633.5" y="339.5" font-family="Liberation Sans, Arial, sans-serif" font-weight="bold" font-size="22.5" fill="#140808" stroke="#140808" stroke-width="0.35" text-anchor="middle" transform="translate(633.5 0) scale(0.86 1) translate(-633.5 0)">2</text>
<text x="643.2" y="380" font-family="Liberation Sans, Arial, sans-serif" font-weight="bold" font-size="22.5" fill="none" stroke="rgba(255,235,235,0.42)" stroke-width="2.8" stroke-linejoin="round" text-anchor="middle" transform="translate(643.2 0) scale(0.86 1) translate(-643.2 0)">13</text><text x="643.2" y="380" font-family="Liberation Sans, Arial, sans-serif" font-weight="bold" font-size="22.5" fill="#140808" stroke="#140808" stroke-width="0.35" text-anchor="middle" transform="translate(643.2 0) scale(0.86 1) translate(-643.2 0)">13</text>
<text x="755.3" y="287" font-family="Liberation Sans, Arial, sans-serif" font-weight="bold" font-size="22.5" fill="none" stroke="rgba(255,235,235,0.42)" stroke-width="2.8" stroke-linejoin="round" text-anchor="middle" transform="translate(755.3 0) scale(0.86 1) translate(-755.3 0)">1</text><text x="755.3" y="287" font-family="Liberation Sans, Arial, sans-serif" font-weight="bold" font-size="22.5" fill="#140808" stroke="#140808" stroke-width="0.35" text-anchor="middle" transform="translate(755.3 0) scale(0.86 1) translate(-755.3 0)">1</text>
<text x="749.5" y="448.7" font-family="Liberation Sans, Arial, sans-serif" font-weight="bold" font-size="22.5" fill="none" stroke="rgba(255,235,235,0.42)" stroke-width="2.8" stroke-linejoin="round" text-anchor="middle" transform="translate(749.5 0) scale(0.86 1) translate(-749.5 0)">3</text><text x="749.5" y="448.7" font-family="Liberation Sans, Arial, sans-serif" font-weight="bold" font-size="22.5" fill="#140808" stroke="#140808" stroke-width="0.35" text-anchor="middle" transform="translate(749.5 0) scale(0.86 1) translate(-749.5 0)">3</text>
<text x="657.6" y="565" font-family="Liberation Sans, Arial, sans-serif" font-weight="bold" font-size="22.5" fill="none" stroke="rgba(255,235,235,0.42)" stroke-width="2.8" stroke-linejoin="round" text-anchor="middle" transform="translate(657.6 0) scale(0.86 1) translate(-657.6 0)">7</text><text x="657.6" y="565" font-family="Liberation Sans, Arial, sans-serif" font-weight="bold" font-size="22.5" fill="#140808" stroke="#140808" stroke-width="0.35" text-anchor="middle" transform="translate(657.6 0) scale(0.86 1) translate(-657.6 0)">7</text>
<text x="282.8" y="405.6" font-family="Liberation Sans, Arial, sans-serif" font-weight="bold" font-size="22.5" fill="none" stroke="rgba(255,235,235,0.42)" stroke-width="2.8" stroke-linejoin="round" textLength="89.5" lengthAdjust="spacingAndGlyphs">Charlotte</text><text x="282.8" y="405.6" font-family="Liberation Sans, Arial, sans-serif" font-weight="bold" font-size="22.5" fill="#140808" stroke="#140808" stroke-width="0" textLength="89.5" lengthAdjust="spacingAndGlyphs">Charlotte</text>
<text x="642.6" y="339.5" font-family="Liberation Sans, Arial, sans-serif" font-weight="bold" font-size="22" fill="none" stroke="rgba(255,235,235,0.42)" stroke-width="2.8" stroke-linejoin="round" textLength="69" lengthAdjust="spacingAndGlyphs">Raleigh</text><text x="642.6" y="339.5" font-family="Liberation Sans, Arial, sans-serif" font-weight="bold" font-size="22" fill="#140808" stroke="#140808" stroke-width="0" textLength="69" lengthAdjust="spacingAndGlyphs">Raleigh</text>
<rect x="7" y="194" width="145.5" height="29.6" fill="#3d3d3d"/>
<text x="9.8" y="215.6" font-family="Liberation Sans, Arial, sans-serif" font-weight="bold" font-size="17.5" fill="#fff" stroke="#fff" stroke-width="0.3" textLength="139" lengthAdjust="spacingAndGlyphs">Current boundaries</text>
<rect x="824.5" y="194" width="157.5" height="29.6" fill="#3d3d3d"/>
<text x="826.8" y="215.6" font-family="Liberation Sans, Arial, sans-serif" font-weight="bold" font-size="17.5" fill="#fff" stroke="#fff" stroke-width="0.3" textLength="152" lengthAdjust="spacingAndGlyphs">Proposed boundaries</text>
<rect x="492" y="194" width="5" height="400" fill="#5a5a5a"/>
<rect x="493.3" y="194" width="2.5" height="400" fill="#fff"/>
<path d="M490.5,389 L469.8,400.7 L490.5,412.4 L486.6,400.7 Z" fill="#f4f4f4" stroke="#2a1010" stroke-width="1.6" stroke-linejoin="round"/>
<path d="M498.7,389 L519.2,400.7 L498.7,412.2 L502.1,400.7 Z" fill="#f4f4f4" stroke="#2a1010" stroke-width="1.6" stroke-linejoin="round"/>
<rect x="0" y="0" width="1000" height="28" fill="#000"/>
<rect x="0" y="590" width="1000" height="77" fill="#000"/>
</svg>
</body></html>
